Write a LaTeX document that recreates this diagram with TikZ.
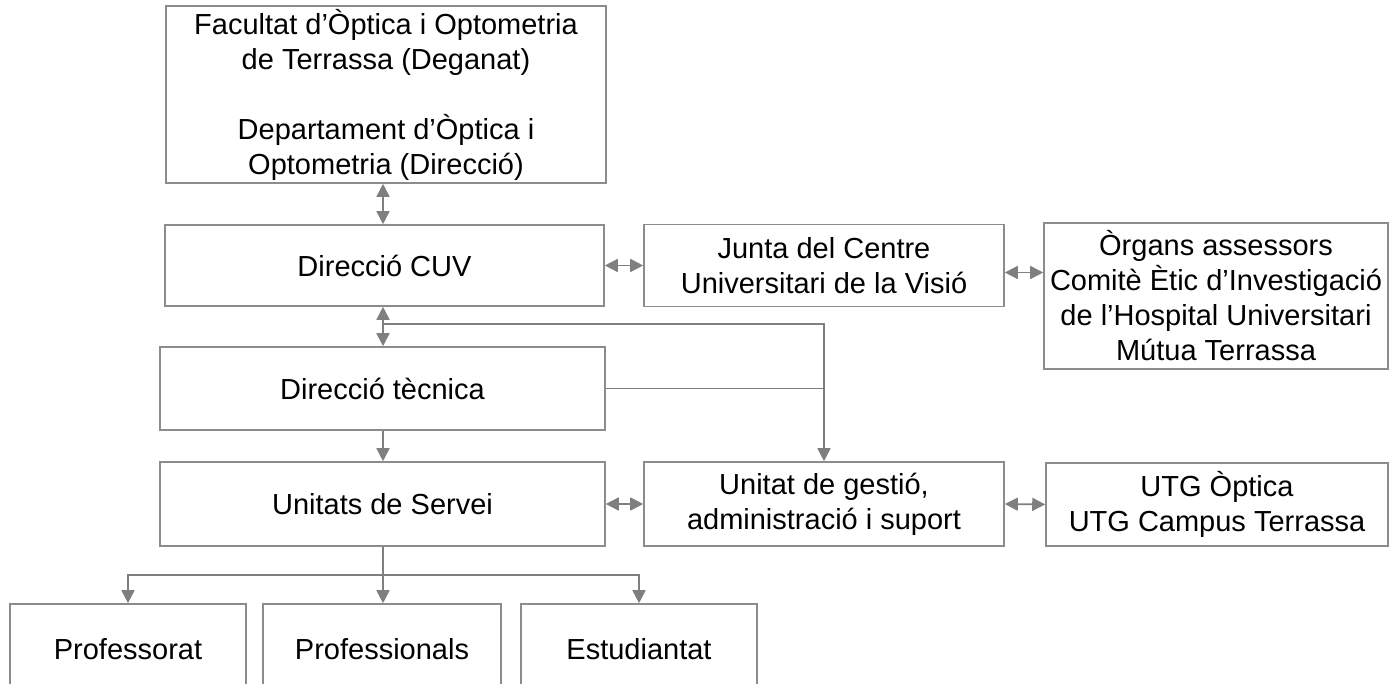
\documentclass[tikz,border=0pt]{standalone}
\usepackage{fontspec}
\setmainfont{Liberation Sans}
\usetikzlibrary{arrows.meta}
\definecolor{framegray}{HTML}{8C8C8C}
\definecolor{linkgray}{HTML}{7F7F7F}
\tikzset{
	unitbox/.style={draw=framegray,line width=1.6pt,fill=white,inner sep=0pt,align=center,
		font=\fontsize{29}{35}\selectfont},
	link/.style={draw=linkgray,line width=1.7pt},
	tip/.style={-{Triangle[length=13pt,width=13pt]}},
	tips/.style={{Triangle[length=13pt,width=13pt]}-{Triangle[length=13pt,width=13pt]}}
}
\begin{document}
\begin{tikzpicture}[x=1pt,y=-1pt]
		\useasboundingbox (0,0) rectangle (1396,684);
		\fill[color=white] (0,0) rectangle (1396,684);
		\node[unitbox,minimum width=440pt,minimum height=177pt] (fac) at (386,94.5)
			{Facultat d’Òptica i Optometria\\de Terrassa (Deganat)\\[35pt]Departament d’Òptica i\\Optometria (Direcció)};
		\node[unitbox,minimum width=439pt,minimum height=81pt] (cuv) at (384.5,265.5) {Direcció CUV};
		\node[unitbox,minimum width=360pt,minimum height=82pt] (junta) at (824,265.5)
			{Junta del Centre\\Universitari de la Visió};
		\node[unitbox,minimum width=344pt,minimum height=146pt] (organs) at (1216,296)
			{Òrgans assessors\\Comitè Ètic d’Investigació\\de l’Hospital Universitari\\Mútua Terrassa};
		\node[unitbox,minimum width=445pt,minimum height=83pt] (tec) at (382.5,388.5) {Direcció tècnica};
		\node[unitbox,minimum width=445pt,minimum height=84pt] (serv) at (382.5,504) {Unitats de Servei};
		\node[unitbox,minimum width=360pt,minimum height=84pt] (gest) at (824,504)
			{Unitat de gestió,\\administració i suport};
		\node[unitbox,minimum width=342pt,minimum height=83pt] (utg) at (1217,504.5)
			{UTG Òptica\\UTG Campus Terrassa};
		\node[unitbox,minimum width=236pt,minimum height=90pt] (prof) at (128,649) {Professorat};
		\node[unitbox,minimum width=238pt,minimum height=90pt] (profs) at (382,649) {Professionals};
		\node[unitbox,minimum width=236pt,minimum height=90pt] (est) at (639,649) {Estudiantat};
		\coordinate (split) at (383,324);
		\coordinate (fork) at (383,575);
		\draw[link,tips] (fac.south -| split) -- (cuv.north -| split);
		\draw[link,tips] (cuv.east) -- (junta.west);
		\draw[link,tips] ([yshift=-7pt]junta.east) -- ([yshift=-7pt]junta.east -| organs.west);
		\draw[link,tips] (cuv.south -| split) -- (tec.north -| split);
		\draw[link,tip] (split) -| (gest.north);
		\draw[link] (tec.east) -- (tec.east -| gest.north);
		\draw[link,tip] (tec.south -| split) -- (serv.north -| split);
		\draw[link,tips] (serv.east) -- (gest.west);
		\draw[link,tips] (gest.east) -- (utg.west);
		\draw[link] (serv.south -| fork) -- (fork);
		\draw[link,tip] (fork) -| (prof.north);
		\draw[link,tip] (fork) -- (profs.north -| fork);
		\draw[link,tip] (fork) -| (est.north);
	\end{tikzpicture}
\end{document}
